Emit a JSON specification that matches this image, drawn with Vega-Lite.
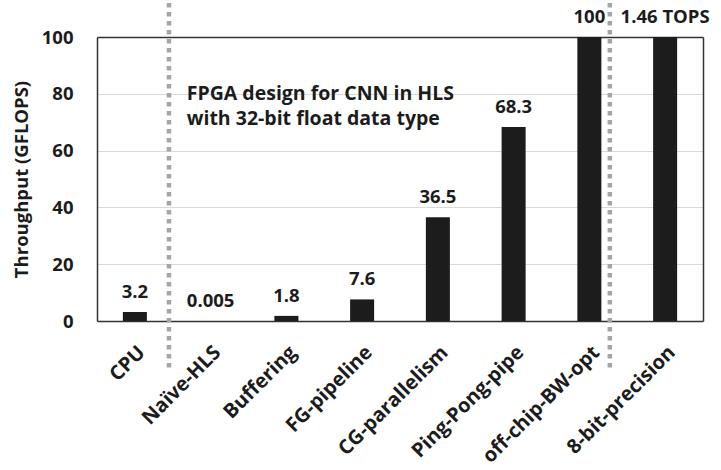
{
  "$schema": "https://vega.github.io/schema/vega-lite/v6.json",
  "width": 606,
  "height": 284,
  "autosize": {"type": "none"},
  "padding": {"left": 97, "top": 37, "right": 18, "bottom": 149},
  "background": "white",
  "config": {
    "font": "Open Sans",
    "view": {"stroke": null}
  },
  "datasets": {
    "bars": [
      {"name": "CPU", "value": 3.2, "label": "3.2"},
      {"name": "Naïve-HLS", "value": 0.005, "label": "0.005"},
      {"name": "Buffering", "value": 1.8, "label": "1.8"},
      {"name": "FG-pipeline", "value": 7.6, "label": "7.6"},
      {"name": "CG-parallelism", "value": 36.5, "label": "36.5"},
      {"name": "Ping-Pong-pipe", "value": 68.3, "label": "68.3"},
      {"name": "off-chip-BW-opt", "value": 100, "label": "100"},
      {"name": "8-bit-precision", "value": 100, "label": "1.46 TOPS"}
    ],
    "note": [
      {"name": "Naïve-HLS", "y": 79.8, "text": "FPGA design for CNN in HLS\nwith 32-bit float data type"}
    ]
  },
  "resolve": {"axis": {"x": "independent", "y": "independent"}},
  "layer": [
    {
      "data": {"name": "bars"},
      "mark": {"type": "bar", "width": {"band": 0.317}, "color": "#1c1c1c"},
      "encoding": {
        "x": {
          "field": "name", "type": "nominal", "sort": null,
          "scale": {"paddingInner": 0, "paddingOuter": 0},
          "axis": {
            "title": null, "ticks": false, "domain": true, "domainColor": "#333333", "domainWidth": 1.5,
            "labelAngle": -45, "labelAlign": "right", "labelBaseline": "middle",
            "labelFontSize": 20, "labelFontWeight": "bold", "labelColor": "#1c1c1c",
            "labelPadding": 28, "labelOffset": 7
          }
        },
        "y": {
          "field": "value", "type": "quantitative",
          "scale": {"domain": [0, 100], "nice": false},
          "axis": {
            "title": "Throughput (GFLOPS)", "values": [0, 20, 40, 60, 80, 100],
            "ticks": false, "domain": true, "domainColor": "#333333", "domainWidth": 1.5,
            "grid": true, "gridColor": "#d9d9d9", "gridWidth": 1,
            "labelFontSize": 18.5, "labelFontWeight": "bold", "labelColor": "#1c1c1c",
            "labelPadding": 24,
            "titleFontSize": 18.5, "titleFontWeight": "bold", "titleColor": "#1c1c1c",
            "titlePadding": 10
          }
        }
      }
    },
    {
      "data": {"name": "bars"},
      "mark": {"type": "text", "baseline": "alphabetic", "dy": -14, "fontSize": 18.5, "fontWeight": "bold", "color": "#1c1c1c"},
      "encoding": {
        "x": {
          "field": "name", "type": "nominal", "sort": null,
          "axis": {"orient": "top", "title": null, "labels": false, "ticks": false, "grid": false, "domain": true, "domainColor": "#333333", "domainWidth": 1.5}
        },
        "y": {
          "field": "value", "type": "quantitative",
          "axis": {"orient": "right", "title": null, "labels": false, "ticks": false, "grid": false, "domain": true, "domainColor": "#333333", "domainWidth": 1.5}
        },
        "text": {"field": "label"}
      }
    },
    {
      "data": {"values": [{"name": "CPU", "top": 112, "bottom": -17}]},
      "mark": {"type": "rule", "color": "#a5a5a5", "strokeWidth": 4.5, "strokeDash": [4.5, 4.5]},
      "encoding": {
        "x": {"field": "name", "type": "nominal", "sort": null, "bandPosition": 0.95, "axis": null},
        "y": {"field": "top", "type": "quantitative", "axis": null},
        "y2": {"field": "bottom"}
      }
    },
    {
      "data": {"values": [{"name": "off-chip-BW-opt", "top": 112, "bottom": -17}]},
      "mark": {"type": "rule", "color": "#a5a5a5", "strokeWidth": 4.5, "strokeDash": [4.5, 4.5]},
      "encoding": {
        "x": {"field": "name", "type": "nominal", "sort": null, "bandPosition": 0.77, "axis": null},
        "y": {"field": "top", "type": "quantitative", "axis": null},
        "y2": {"field": "bottom"}
      }
    },
    {
      "data": {"name": "note"},
      "mark": {"type": "text", "align": "left", "baseline": "middle", "lineBreak": "\n", "lineHeight": 24.5, "dx": 14, "fontSize": 19.5, "fontWeight": "bold", "color": "#1c1c1c"},
      "encoding": {
        "x": {"field": "name", "type": "nominal", "sort": null, "bandPosition": 0, "axis": null},
        "y": {"field": "y", "type": "quantitative", "axis": null},
        "text": {"field": "text"}
      }
    }
  ]
}
